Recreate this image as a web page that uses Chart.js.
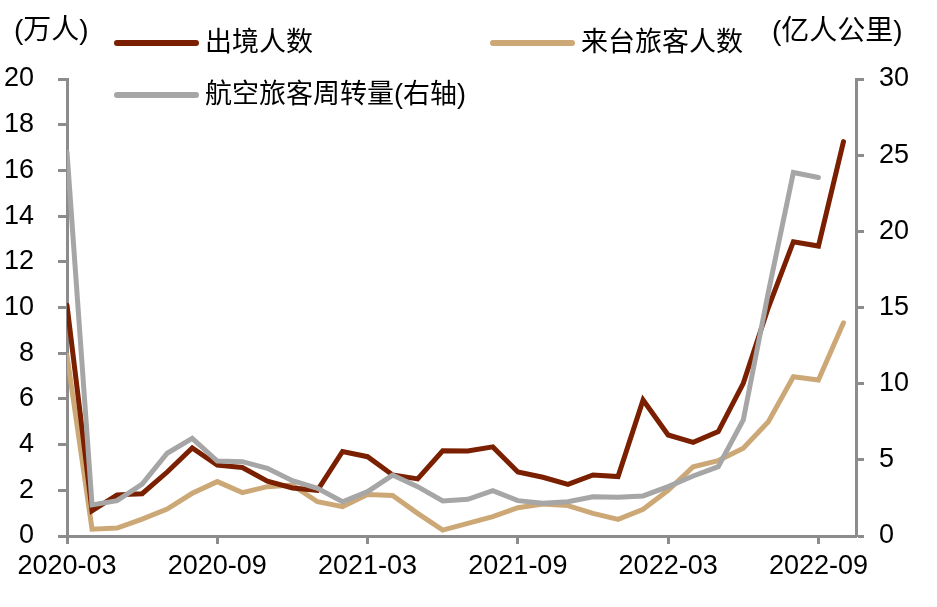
<!DOCTYPE html>
<html lang="zh">
<head>
  <meta charset="UTF-8" />
  <title>出境人数 / 来台旅客人数 / 航空旅客周转量</title>
  <script src="https://cdn.jsdelivr.net/npm/chart.js"></script>
  <style>
    body { margin: 0; background: #fff; }
    .wrap { width: 937px; height: 607px; position: relative; }
  </style>
</head>
<body>
  <div class="wrap"><canvas id="grafica"></canvas></div>

  <script>
    // meses 2020-03 ... 2022-10
    const meses = [
      '2020-03','2020-04','2020-05','2020-06','2020-07','2020-08','2020-09','2020-10',
      '2020-11','2020-12','2021-01','2021-02','2021-03','2021-04','2021-05','2021-06',
      '2021-07','2021-08','2021-09','2021-10','2021-11','2021-12','2022-01','2022-02',
      '2022-03','2022-04','2022-05','2022-06','2022-07','2022-08','2022-09','2022-10'
    ];

    // 出境人数 (万人)
    const salidas = [
      10.1, 1.1, 1.8, 1.85, 2.8, 3.85, 3.1, 3.0, 2.4, 2.1, 2.0, 3.7,
      3.47, 2.67, 2.5, 3.73, 3.72, 3.9, 2.8, 2.57, 2.26, 2.67, 2.6, 5.95,
      4.42, 4.1, 4.57, 6.68, 10.0, 12.88, 12.69, 17.26
    ];

    // 来台旅客人数 (万人)
    const llegadas = [
      7.9, 0.3, 0.35, 0.74, 1.18, 1.87, 2.38, 1.9, 2.16, 2.23, 1.5, 1.28,
      1.82, 1.77, 0.99, 0.26, 0.55, 0.85, 1.24, 1.4, 1.33, 0.99, 0.73, 1.17,
      2.0, 3.03, 3.3, 3.84, 5.0, 6.97, 6.83, 9.33
    ];

    // 航空旅客周转量 (亿人公里, 右轴), hasta 2022-09
    const aereo = [
      25.2, 2.04, 2.32, 3.41, 5.43, 6.41, 4.92, 4.88, 4.44, 3.63, 3.13, 2.25,
      2.91, 4.0, 3.24, 2.3, 2.41, 2.98, 2.32, 2.15, 2.25, 2.58, 2.54, 2.63,
      3.24, 3.94, 4.55, 7.62, 16.0, 23.86, 23.53
    ];

    const ticksIzq = [0, 2, 4, 6, 8, 10, 12, 14, 16, 18, 20];
    const ticksDer = [0, 5, 10, 15, 20, 25, 30];

    const FUENTE = "'Liberation Sans', Arial, 'Noto Sans CJK SC', sans-serif";
    const GRIS_EJE = '#8c8c8c';

    const series = [
      { label: '出境人数', datos: salidas, color: '#7a1f00', eje: 'y', orden: 1, ley: [115, 43] },
      { label: '来台旅客人数', datos: llegadas, color: '#cda877', eje: 'y', orden: 2, ley: [491, 43] },
      { label: '航空旅客周转量(右轴)', datos: aereo, color: '#a6a6a6', eje: 'y2', orden: 0, ley: [115, 95] }
    ];

    // leyenda y unidades dibujadas a mano
    const leyenda = {
      id: 'leyenda',
      afterDraw(chart) {
        const ctx = chart.ctx;
        ctx.save();
        ctx.textBaseline = 'middle';
        ctx.fillStyle = '#000';
        ctx.font = '27px ' + FUENTE;
        series.forEach(s => {
          const [x, y] = s.ley;
          ctx.strokeStyle = s.color;
          ctx.lineWidth = 6;
          ctx.lineCap = 'round';
          ctx.beginPath();
          ctx.moveTo(x + 2, y);
          ctx.lineTo(x + 81, y);
          ctx.stroke();
          ctx.fillText(s.label, x + 90, y + 1);
        });
        ctx.font = '28px ' + FUENTE;
        ctx.fillText('(万人)', 14, 31);
        ctx.fillText('(亿人公里)', 772, 32);
        ctx.restore();
      }
    };

    const ctx = document.getElementById('grafica').getContext('2d');
    new Chart(ctx, {
      type: 'line',
      data: {
        datasets: series.map(s => ({
          label: s.label,
          data: s.datos.map((v, i) => ({ x: i, y: v })),
          borderColor: s.color,
          backgroundColor: s.color,
          borderWidth: 5,
          borderCapStyle: 'round',
          pointRadius: 0,
          tension: 0,
          yAxisID: s.eje,
          order: s.orden
        }))
      },
      options: {
        responsive: true,
        maintainAspectRatio: false,
        animation: false,
        layout: { padding: { top: 79, left: 0, right: 0, bottom: 0 } },
        plugins: {
          legend: { display: false },
          tooltip: { enabled: false }
        },
        scales: {
          x: {
            type: 'linear',
            min: 0,
            max: 31.5,
            afterBuildTicks(scale) {
              scale.ticks = meses.map((m, i) => ({ value: i })).filter(t => t.value % 6 === 0);
            },
            afterFit(scale) { scale.height = 71; },
            ticks: {
              color: '#000',
              font: { family: FUENTE, size: 27 },
              padding: 6,
              maxRotation: 0,
              autoSkip: false,
              callback: v => meses[v]
            },
            grid: { drawOnChartArea: false, tickLength: 8, tickWidth: 3, tickColor: GRIS_EJE },
            border: { color: GRIS_EJE, width: 3 }
          },
          y: {
            position: 'left',
            min: 0,
            max: 20,
            afterBuildTicks(scale) { scale.ticks = ticksIzq.map(v => ({ value: v })); },
            afterFit(scale) { scale.width = 67; },
            ticks: {
              color: '#000',
              font: { family: FUENTE, size: 27 },
              padding: 24
            },
            grid: { drawOnChartArea: false, tickLength: 9, tickWidth: 3, tickColor: GRIS_EJE },
            border: { color: GRIS_EJE, width: 3 }
          },
          y2: {
            position: 'right',
            min: 0,
            max: 30,
            afterBuildTicks(scale) { scale.ticks = ticksDer.map(v => ({ value: v })); },
            afterFit(scale) { scale.width = 81; },
            ticks: {
              color: '#000',
              font: { family: FUENTE, size: 27 },
              padding: 15
            },
            grid: { drawOnChartArea: false, tickLength: 8, tickWidth: 3, tickColor: GRIS_EJE },
            border: { color: GRIS_EJE, width: 3 }
          }
        }
      },
      plugins: [leyenda]
    });
  </script>
</body>
</html>
